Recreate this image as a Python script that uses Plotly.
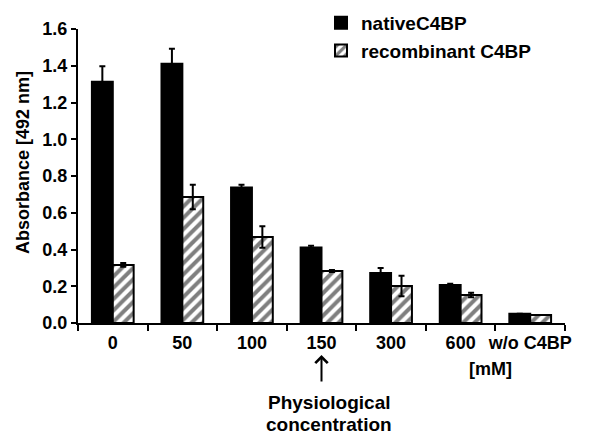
import plotly.graph_objects as go

categories = ["0", "50", "100", "150", "300", "600", "w/o C4BP"]
native = [1.313, 1.411, 0.738, 0.411, 0.272, 0.207, 0.051]
native_err = [0.084, 0.082, 0.015, 0.010, 0.027, 0.006, 0.0]
recomb = [0.316, 0.686, 0.468, 0.283, 0.201, 0.152, 0.044]
recomb_err = [0.010, 0.067, 0.058, 0.005, 0.056, 0.012, 0.0]
yticks = [0.0, 0.2, 0.4, 0.6, 0.8, 1.0, 1.2, 1.4, 1.6]

FONT = "Arial, Liberation Sans, Helvetica, sans-serif"
W, H = 592, 434
L, R, T, B = 78, 27, 29, 111
ph = H - T - B
pw = W - L - R
YMAX = 1.6

fig = go.Figure()
fig.add_trace(go.Bar(
    x=categories, y=native, name="nativeC4BP",
    marker=dict(color="black", line=dict(color="black", width=2)),
    error_y=dict(type="data", array=native_err, color="black", thickness=2, width=3),
))
fig.add_trace(go.Bar(
    x=categories, y=recomb, name="recombinant C4BP",
    marker=dict(color="white", line=dict(color="black", width=2),
                pattern=dict(shape="/", fgcolor="black", bgcolor="white", size=8, solidity=0.5)),
    error_y=dict(type="data", array=recomb_err, color="black", thickness=2, width=3),
))

def py(px):
    return (H - B - px) / ph

def pxx(px):
    return (px - L) / pw

fig.update_layout(
    width=W, height=H,
    margin=dict(l=L, r=R, t=T, b=B, autoexpand=False),
    plot_bgcolor="white", paper_bgcolor="white",
    barmode="group", bargap=0.4, bargroupgap=0,
    font=dict(family=FONT, color="black", size=18, weight="bold"),
    legend=dict(x=pxx(321), y=py(4), xanchor="left", yanchor="top",
                font=dict(size=19, family=FONT, weight="bold"),
                bgcolor="rgba(0,0,0,0)", tracegroupgap=0),
    xaxis=dict(type="category", showline=True, linecolor="black", linewidth=2, ticks="outside",
               tickson="boundaries", ticklen=6, tickwidth=2, tickcolor="black", tickangle=0,
               ticklabelstandoff=2,
               automargin=False, showgrid=False, tickfont=dict(size=18, weight="bold")),
    yaxis=dict(range=[0, YMAX], tickvals=yticks, ticktext=[f"{v:.1f}" for v in yticks],
               showline=True, linecolor="black", linewidth=2, ticks="outside", automargin=False,
               ticklen=5, tickwidth=2, tickcolor="black", showgrid=False, zeroline=False,
               tickfont=dict(size=18, weight="bold")),
    annotations=[
        dict(text="Absorbance [492 nm]", textangle=-90, x=pxx(23), y=py(163),
             xanchor="center", yanchor="middle",
             xref="paper", yref="paper", showarrow=False, font=dict(size=18, weight="bold")),
        dict(text="[mM]", x=pxx(490), y=py(369), xanchor="center", yanchor="middle",
             xref="paper", yref="paper",
             showarrow=False, font=dict(size=18, weight="bold")),
        dict(text="Physiological", x=pxx(329), y=py(402),
             xanchor="center", yanchor="middle",
             xref="paper", yref="paper", showarrow=False, font=dict(size=19, weight="bold")),
        dict(text="concentration", x=pxx(329), y=py(424),
             xanchor="center", yanchor="middle",
             xref="paper", yref="paper", showarrow=False, font=dict(size=19, weight="bold")),
        dict(text="", x=3, y=py(355), xref="x", yref="paper", showarrow=True,
             ax=0, ay=28, standoff=0, startstandoff=0,
             arrowhead=4, arrowsize=1.2, arrowwidth=2, arrowcolor="black"),
    ],
)

fig.write_html("out.html")
